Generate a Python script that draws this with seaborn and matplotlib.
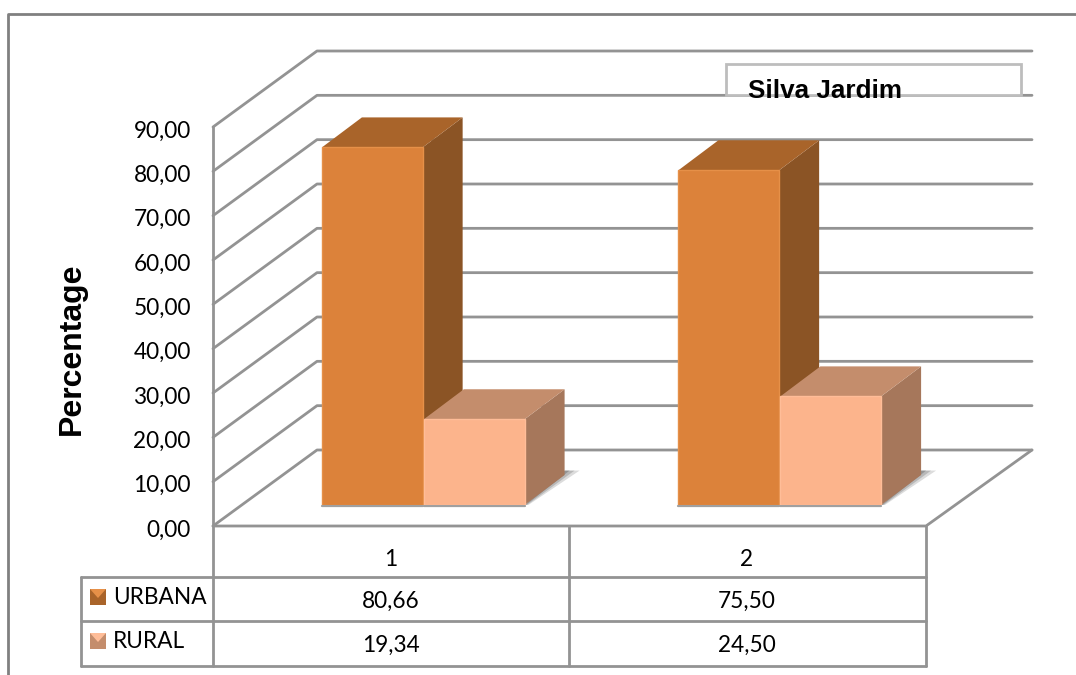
import matplotlib
matplotlib.use("Agg")
import matplotlib.pyplot as plt
from matplotlib.patches import Polygon, Rectangle
from matplotlib.transforms import ScaledTranslation
import pandas as pd
import seaborn as sns

# --- data ---
groups = ["1", "2"]
urbana = [80.66, 75.50]
rural = [19.34, 24.50]
series_names = ["URBANA", "RURAL"]
y_ticks = [0, 10, 20, 30, 40, 50, 60, 70, 80, 90]
title = "Silva Jardim"
y_label = "Percentage"

# --- styles ---
W, H = 1076, 675
LINE = "#939393"
FRONT = ["#DC823A", "#FCB48C"]
RIM = ["#E69048", "#FFBD98"]
TOP = ["#A9642A", "#C48D6C"]
SIDE = ["#8B5425", "#A6775B"]
BODY_FONT = ["Lato", "DejaVu Sans"]
BOLD_FONT = ["Liberation Sans", "DejaVu Sans"]
LW = 2.0
TXT = 16.3

sns.set_theme(style="white")
plt.rcParams["font.family"] = BODY_FONT
fig = plt.figure(figsize=(W / 100, H / 100), dpi=100, facecolor="white")


def rect(x0, y_top, x1, y_bottom):
    return [x0 / W, 1 - y_bottom / H, (x1 - x0) / W, (y_bottom - y_top) / H]


def num(v):
    return f"{v:.2f}".replace(".", ",")


# geometry in pixels
AX_L, AX_R, AX_B, AX_T = 213, 926, 526, 127
DEPTH_X, DEPTH_Y = 104, 76
PX_PER_UNIT = (AX_B - AX_T) / 90
PX_PER_CAT = (AX_R - AX_L) / 2

# main axes: front plane with the value axis
ax = fig.add_axes(rect(AX_L, AX_T, AX_R, AX_B), zorder=1)
ax.patch.set_alpha(0)
ax.set_xlim(-0.5, 1.5)
ax.set_ylim(0, 90)
for s in ax.spines.values():
    s.set_visible(False)
ax.set_xticks([])
ax.set_yticks(y_ticks)
ax.set_yticklabels([num(t) for t in y_ticks], fontsize=TXT, color="black")
ax.tick_params(axis="y", length=0, pad=16)
label_shift = ScaledTranslation(0, -2 / 100, fig.dpi_scale_trans)
for lab in ax.get_yticklabels():
    lab.set_transform(lab.get_transform() + label_shift)
ax.set_ylabel(y_label, fontsize=23, fontweight="bold", family=BOLD_FONT, color="black", va="center")
ax.yaxis.set_label_coords((72 - AX_L) / (AX_R - AX_L), (AX_B - 349) / (AX_B - AX_T))

ddx = DEPTH_X / PX_PER_CAT
ddy = DEPTH_Y / PX_PER_UNIT
x_right = -0.5 + (1032 - AX_L) / PX_PER_CAT
for t in y_ticks:
    xs = [-0.5, -0.5 + ddx, x_right]
    ys = [t, t + ddy, t + ddy]
    ax.plot(xs, ys, color=LINE, lw=LW, clip_on=False, solid_capstyle="round", solid_joinstyle="round", zorder=2)
ax.plot([x_right, 1.5, -0.5], [ddy, 0, 0], color=LINE, lw=LW, clip_on=False, solid_capstyle="round", zorder=2)

# bars: seaborn on an overlay sharing the value scale, sat on the floor
BAR_BASE = 505
BAR_SHIFT = 32
ax_bar = fig.add_axes(rect(AX_L + BAR_SHIFT, AX_T, AX_R + BAR_SHIFT, BAR_BASE), zorder=2)
ax_bar.patch.set_alpha(0)
df = pd.DataFrame({
    "group": groups * 2,
    "value": urbana + rural,
    "area": [series_names[0]] * 2 + [series_names[1]] * 2,
})
sns.barplot(data=df, x="group", y="value", hue="area", order=groups, hue_order=series_names,
            palette=FRONT, width=0.572, gap=0.012, saturation=1, legend=False, ax=ax_bar)
ax_bar.set_xlim(-0.5, 1.5)
ax_bar.set_ylim(0, (BAR_BASE - AX_T) / PX_PER_UNIT)
ax_bar.axis("off")

BOX_DX = 40 / PX_PER_CAT
BOX_DY = 30 / PX_PER_UNIT
for i, cont in enumerate(ax_bar.containers):
    z = 3 + 2 * i
    for bar in cont:
        x0, x1 = bar.get_x(), bar.get_x() + bar.get_width()
        h = bar.get_height()
        bar.set_zorder(z + 1)
        bar.set_edgecolor(RIM[i])
        bar.set_linewidth(1.0)
        # floor shadow
        if i == 1:
            for extra, alpha in [(15, 0.2), (10, 0.25), (5, 0.35)]:
                e = extra / PX_PER_CAT
                ax_bar.add_patch(Polygon(
                    [(x1, 0), (x1 + BOX_DX, BOX_DY + 1), (x1 + BOX_DX + e, BOX_DY + 1), (x1 + 0.25 * e, 0)],
                    closed=True, fc="#505050", ec="none", alpha=alpha, zorder=1, clip_on=False))
        # baseline shadow
        ax_bar.plot([x0, x1], [-0.3, -0.3], color="#A0A0A0", lw=1.6, zorder=1, clip_on=False)
        ax_bar.add_patch(Polygon(
            [(x1, 0), (x1 + BOX_DX, BOX_DY), (x1 + BOX_DX, h + BOX_DY), (x1, h)],
            closed=True, fc=SIDE[i], ec="none", zorder=z, clip_on=False))
        ax_bar.add_patch(Polygon(
            [(x0, h), (x0 + BOX_DX, h + BOX_DY), (x1 + BOX_DX, h + BOX_DY), (x1, h)],
            closed=True, fc=TOP[i], ec="none", zorder=z, clip_on=False))

# furniture overlay in pixel units: frame, data table, title box
fx = fig.add_axes([0, 0, 1, 1], zorder=3)
fx.patch.set_alpha(0)
fx.set_xlim(0, W)
fx.set_ylim(H, 0)
fx.axis("off")

fx.plot([8, 8, W], [H, 14, 14], color="#808080", lw=LW, clip_on=False)

TBL_KEY_L, TBL_C, ROWS = 81, 569, [526, 577, 621, 666]
tbl = dict(color=LINE, lw=LW, solid_capstyle="round")
fx.plot([AX_L, AX_L], [AX_T, ROWS[3]], **tbl)
fx.plot([TBL_C, TBL_C], [ROWS[0], ROWS[3]], **tbl)
fx.plot([AX_R, AX_R], [ROWS[0], ROWS[3]], **tbl)
fx.plot([TBL_KEY_L, TBL_KEY_L], [ROWS[1], ROWS[3]], **tbl)
for r in ROWS[1:]:
    fx.plot([TBL_KEY_L, AX_R], [r, r], **tbl)

col_centres = [391, 747]
for cx, g, u, r_ in zip(col_centres, groups, urbana, rural):
    fx.text(cx, 560, g, ha="center", va="center", fontsize=TXT, color="black")
    fx.text(cx, 601, num(u), ha="center", va="center", fontsize=TXT, color="black")
    fx.text(cx, 645, num(r_), ha="center", va="center", fontsize=TXT, color="black")

key_y = [598, 642]
for y, name, rim, dark in zip(key_y, series_names, RIM, TOP):
    fx.add_patch(Rectangle((90, y - 9), 16, 16, fc=dark, ec="none"))
    fx.add_patch(Polygon([(90, y - 9), (106, y - 9), (98, y)], closed=True, fc=rim, ec="none"))
    fx.text(113, y, name, ha="left", va="center", fontsize=TXT, color="black")

fx.add_patch(Rectangle((726, 64), 295, 31, fc="white", ec="#BDBDBD", lw=LW))
fx.text(825, 90.5, title, ha="center", va="center", fontsize=18.8, fontweight="bold",
        family=BOLD_FONT, color="black")

fig.savefig("out.png", dpi=100, facecolor="white")
